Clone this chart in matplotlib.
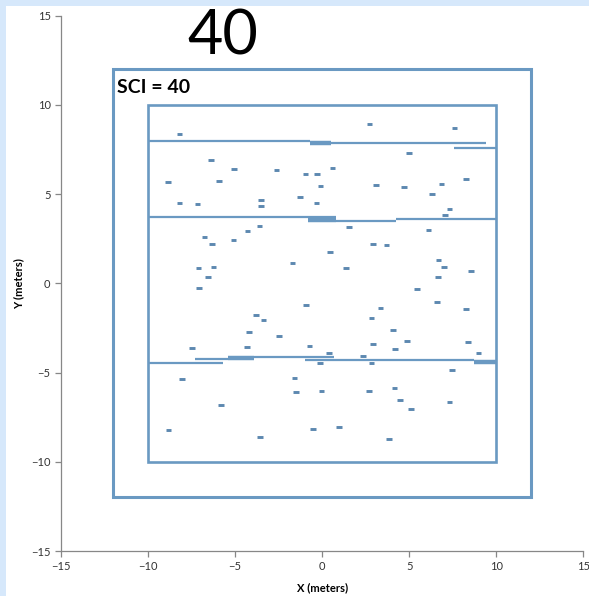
import matplotlib
matplotlib.use("Agg")
import matplotlib.pyplot as plt
from matplotlib.patches import Rectangle

# small furniture dashes (centre x, centre y) in metres
dash_x = [-8.2, 2.72, 7.6, 5.0, -6.4, -5.06, -2.63, 0.59, -0.96, -0.29,
          -8.87, -5.92, -0.1, 3.1, 4.71, 6.86, 8.26, 6.3, -1.28, -8.2,
          -7.17, -3.52, -3.52, -0.33, 7.32, 7.05,
          -3.6, -4.29, -6.76, -6.34, -5.1, 1.53, 6.11, 2.93, 3.7, 0.46,
          -1.71, 6.69, -7.11, -6.25, 1.38, 7.01, 8.56, -6.57, 6.67, -7.07,
          5.44, 6.59, -0.94, 3.35, 8.26, -3.81, -3.37, 2.84, 4.06, -4.2,
          -2.48, 4.89, 2.91, 8.37, -0.73, -7.47, -4.31, 4.18, 0.4, 8.98, 2.34,
          -0.11, 2.84, 7.45, -8.06, -1.59, -1.49, -0.04, 2.68, 4.16, 4.48,
          5.1, 7.32, -5.82, -8.83, -3.58, -0.52, 0.96, 3.83]
dash_y = [8.35, 8.91, 8.72, 7.29, 6.91, 6.39, 6.35, 6.44, 6.12, 6.12,
          5.69, 5.75, 5.45, 5.51, 5.38, 5.54, 5.84, 5.02, 4.85, 4.51,
          4.46, 4.65, 4.31, 4.51, 4.14, 3.82,
          3.22, 2.94, 2.62, 2.23, 2.42, 3.15, 2.98, 2.23, 2.13, 1.76,
          1.14, 1.33, 0.88, 0.92, 0.86, 0.92, 0.67, 0.35, 0.36, -0.26,
          -0.34, -1.03, -1.2, -1.37, -1.42, -1.76, -2.06, -1.97, -2.62, -2.73,
          -2.97, -3.24, -3.41, -3.31, -3.52, -3.61, -3.58, -3.69, -3.91, -3.91, -4.1,
          -4.48, -4.44, -4.85, -5.36, -5.32, -6.07, -6.05, -6.05, -5.86, -6.53,
          -7.04, -6.67, -6.8, -8.22, -8.63, -8.16, -8.05, -8.71]

# interior walls (x start, x end, y)
wall_x0 = [-10, 0.52, 3.9, 7.6, -10, 0.78, 4.25, 8.03, -10, -7.3, -3.89, -0.96]
wall_x1 = [-0.71, 3.9, 9.43, 10, 0.8, 4.25, 8.03, 10, -5.7, -5.38, 0.67, 8.7]
wall_y = [7.95, 7.85, 7.88, 7.57, 3.69, 3.5, 3.58, 3.61, -4.44, -4.25, -4.14, -4.3]

# heavier wall pieces
thick_x0 = [-0.71, -0.83, -5.38, 8.7]
thick_x1 = [0.52, 0.78, -3.89, 10]
thick_y = [7.88, 3.56, -4.2, -4.4]

outer_half = 12
inner_half = 10
sci_value = 40

line_col = "#6a99c2"
dash_col = "#5d88b0"
gray = "#878787"

plt.rcParams["font.family"] = ["Lato", "DejaVu Sans"]

fig = plt.figure(figsize=(5.89, 5.96), dpi=100)
fig.patch.set_facecolor("#d6e8fb")
fig.patches.append(Rectangle((6 / 589, 0), 1, 1 - 6 / 596, transform=fig.transFigure,
                             facecolor="white", edgecolor="none", zorder=-10))

ax = fig.add_axes([0.1036, 0.0755, 0.8867, 0.8982])
ax.set_facecolor("none")

ax.add_patch(Rectangle((-outer_half, -outer_half), 2 * outer_half, 2 * outer_half,
                       fill=False, edgecolor=line_col, lw=2.2))
ax.add_patch(Rectangle((-inner_half, -inner_half), 2 * inner_half, 2 * inner_half,
                       fill=False, edgecolor=line_col, lw=1.9))

ax.hlines(wall_y, wall_x0, wall_x1, color=line_col, lw=1.6)
ax.hlines(thick_y, thick_x0, thick_x1, color=line_col, lw=3.2)

half = 0.16
ax.hlines(dash_y, [x - half for x in dash_x], [x + half for x in dash_x],
          color=dash_col, lw=2.1)

ax.text(-11.8, 11.0, "SCI = %d" % sci_value, fontsize=14, fontweight="bold",
        va="center", ha="left")

ax.set_xlim(-15, 15)
ax.set_ylim(-15, 15)
ax.set_xticks(range(-15, 16, 5))
ax.set_yticks(range(-15, 16, 5))
for s in ["top", "right"]:
    ax.spines[s].set_visible(False)
for s in ["left", "bottom"]:
    ax.spines[s].set_color(gray)
    ax.spines[s].set_linewidth(0.9)
ax.tick_params(colors=gray, labelcolor="#333333", labelsize=8, length=4, width=0.9)

ax.set_xlabel("X (meters)", fontsize=8, fontweight="bold", labelpad=7)
ax.set_ylabel("Y (meters)", fontsize=8, fontweight="bold", labelpad=5)

fig.text(0.379, 0.938, str(sci_value), fontsize=44, ha="center", va="center")

fig.savefig("out.png", dpi=100)
